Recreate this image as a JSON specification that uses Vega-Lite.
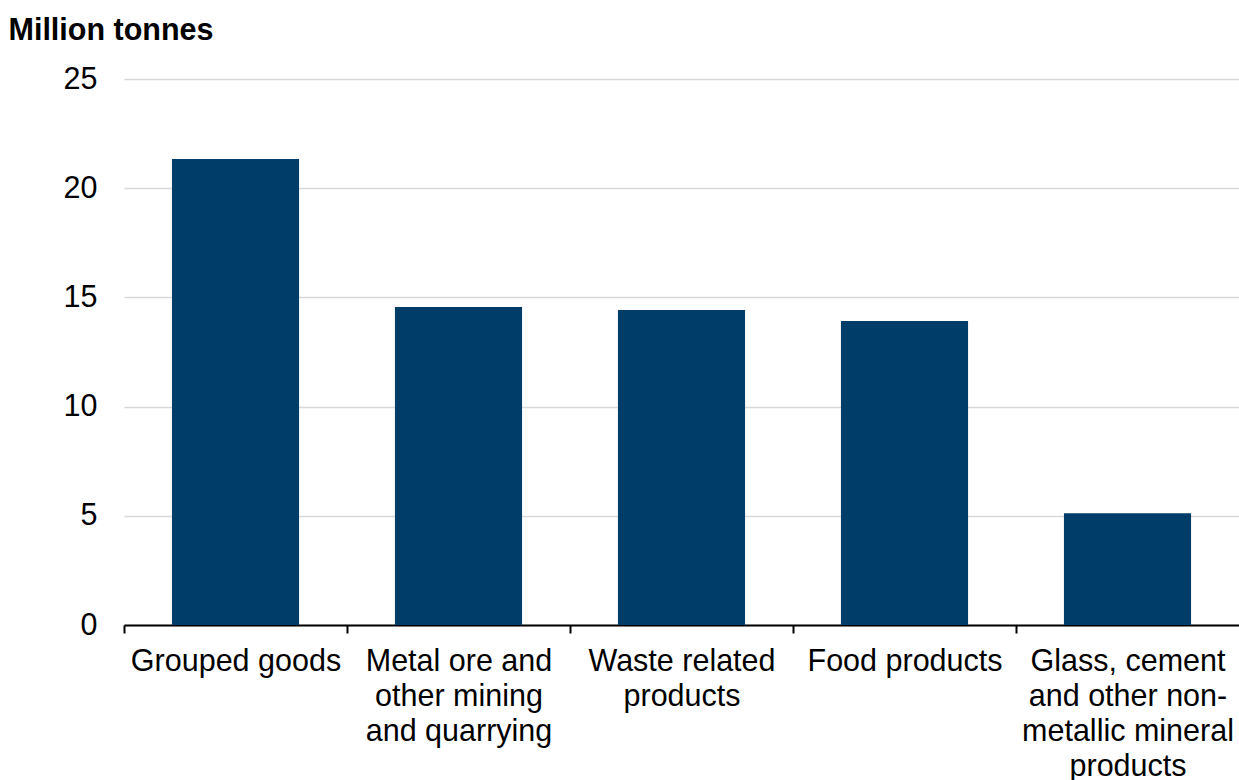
{
  "$schema": "https://vega.github.io/schema/vega-lite/v6.json",
  "autosize": {"type": "none"},
  "padding": {"left": 124, "top": 79, "right": 0, "bottom": 155},
  "width": 1115,
  "height": 546,
  "background": "white",
  "data": {
    "values": [
      {"category": "Grouped goods", "value": 21.34},
      {"category": "Metal ore and other mining and quarrying", "value": 14.56},
      {"category": "Waste related products", "value": 14.42},
      {"category": "Food products", "value": 13.92},
      {"category": "Glass, cement and other non-metallic mineral products", "value": 5.12}
    ]
  },
  "mark": {"type": "bar", "color": "#003d69"},
  "encoding": {
    "x": {
      "field": "category",
      "type": "nominal",
      "sort": null,
      "scale": {"paddingInner": 0.43, "paddingOuter": 0.215},
      "axis": {
        "title": null,
        "labelAngle": 0,
        "labelFont": "Liberation Sans",
        "labelFontSize": 30.5,
        "labelColor": "#000000",
        "labelLineHeight": 35,
        "labelPadding": 13,
        "labelLimit": 0,
        "tickOffset": -111.5,
        "labelOffset": 111.5,
        "tickColor": "#000000",
        "tickWidth": 2,
        "tickSize": 8,
        "domainColor": "#000000",
        "domainWidth": 2,
        "grid": false,
        "labelExpr": "datum.value == 'Metal ore and other mining and quarrying' ? ['Metal ore and', 'other mining', 'and quarrying'] : datum.value == 'Waste related products' ? ['Waste related', 'products'] : datum.value == 'Glass, cement and other non-metallic mineral products' ? ['Glass, cement', 'and other non-', 'metallic mineral', 'products'] : datum.value"
      }
    },
    "y": {
      "field": "value",
      "type": "quantitative",
      "scale": {"domain": [0, 25]},
      "axis": {
        "values": [0, 5, 10, 15, 20, 25],
        "title": "Million tonnes",
        "titleAngle": 0,
        "titleAlign": "left",
        "titleBaseline": "alphabetic",
        "titleX": -116,
        "titleY": -40,
        "titleFont": "Liberation Sans",
        "titleFontSize": 30.5,
        "titleFontWeight": "bold",
        "titleColor": "#000000",
        "labelFont": "Liberation Sans",
        "labelFontSize": 30.5,
        "labelColor": "#000000",
        "labelPadding": 27,
        "ticks": false,
        "domain": false,
        "grid": true,
        "gridColor": "#d9d9d9",
        "gridWidth": 1.5
      }
    }
  },
  "config": {"view": {"stroke": null}}
}
